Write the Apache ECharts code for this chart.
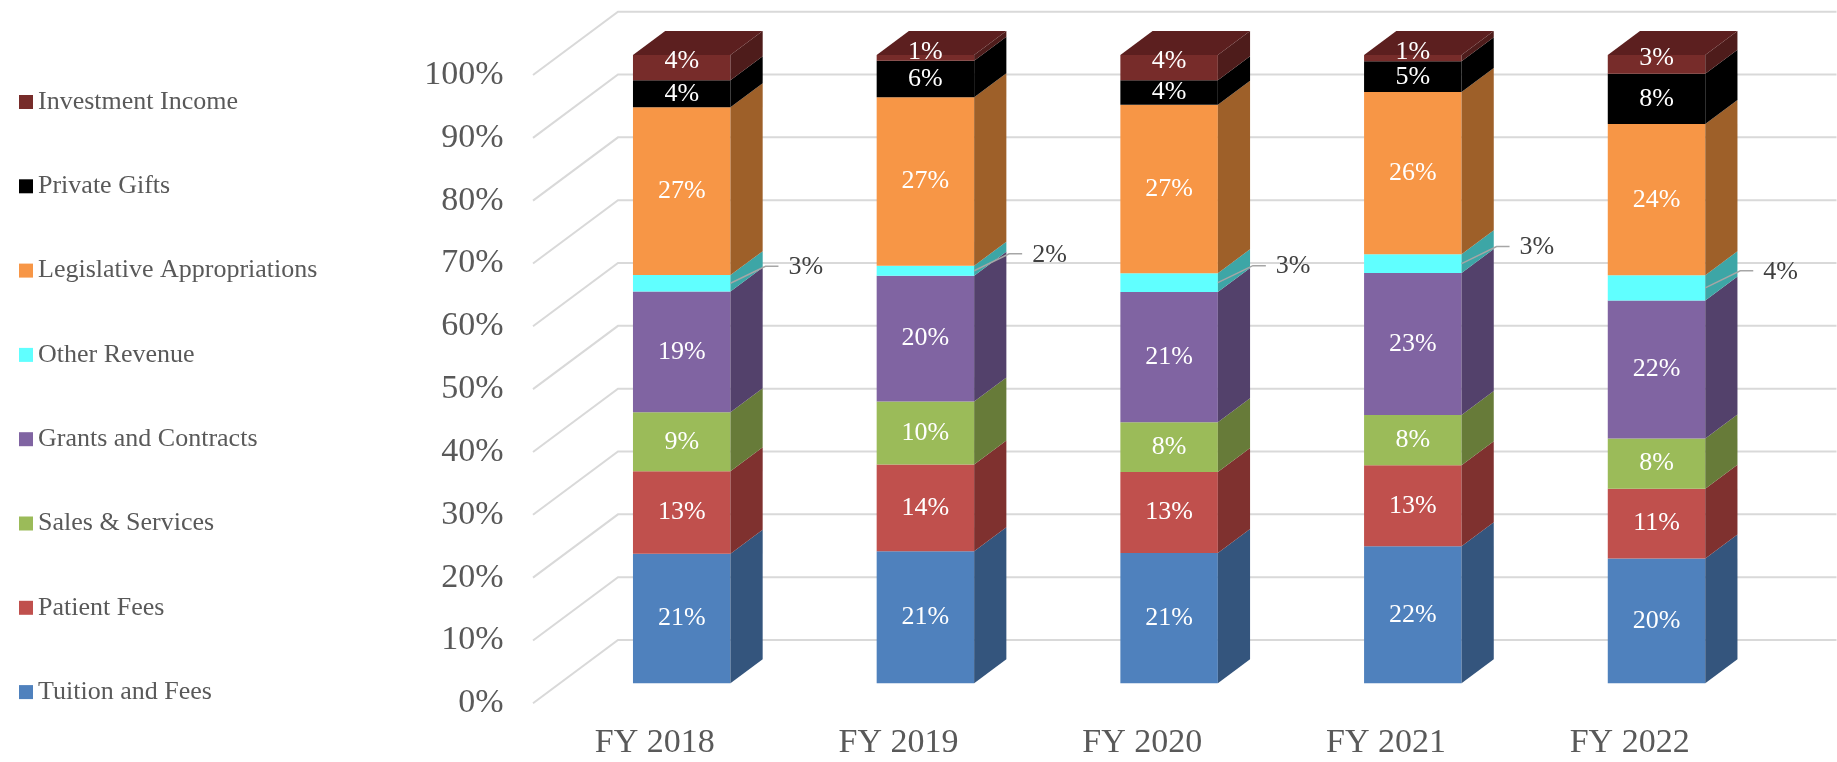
<!DOCTYPE html>
<html>
<head>
<meta charset="utf-8">
<script src="https://cdn.jsdelivr.net/npm/echarts@6/dist/echarts.min.js"></script>
<style>
    html, body { margin: 0; padding: 0; background: #fff; }
    #chart { width: 1837px; height: 762px; }
</style>
</head>
<body>
<div id="chart"></div>
<script>
// revenue mix by fiscal year, share of total in %
const years = ['FY 2018', 'FY 2019', 'FY 2020', 'FY 2021', 'FY 2022']
const tuitionFees = [20.6, 21.0, 20.7, 21.8, 19.9]
const patientFees = [13.1, 13.8, 12.9, 12.9, 11.1]
const salesServices = [9.4, 10.0, 7.9, 8.0, 8.0]
const grantsContracts = [19.2, 20.0, 20.7, 22.6, 22.0]
const otherRevenue = [2.6, 1.6, 3.0, 3.0, 4.0]
const legislative = [26.7, 26.8, 26.8, 25.8, 24.1]
const privateGifts = [4.3, 5.8, 3.9, 4.9, 8.0]
const investmentIncome = [4.0, 0.9, 4.0, 1.0, 3.0]
const yTicks = [0, 10, 20, 30, 40, 50, 60, 70, 80, 90, 100]

// stacked bottom -> top
const seriesNames = ['Tuition and Fees', 'Patient Fees', 'Sales & Services', 'Grants and Contracts',
    'Other Revenue', 'Legislative Appropriations', 'Private Gifts', 'Investment Income']
const seriesValues = [tuitionFees, patientFees, salesServices, grantsContracts,
    otherRevenue, legislative, privateGifts, investmentIncome]

const frontColors = ['#4F81BD', '#C0504D', '#9BBB59', '#8064A2', '#60FFFF', '#F79646', '#000000', '#772C2A']
const sideColors = ['#34557D', '#7F312F', '#677B39', '#53416B', '#3DA6A6', '#9E6029', '#000000', '#4E1C1B']
const topColor = '#5C1F1F'
const outsideLabel = 'Other Revenue'

const FONT = '"Liberation Serif", "Times New Roman", serif'
const DEPTH = [85, -63.3]     // full floor depth in px
const FRONT = 0.316, BACK = 0.695
const BAR_WIDTH = 0.4

// cumulative stacking (normalised to 100%)
const totals = years.map((y, i) => seriesValues.reduce((s, arr) => s + arr[i], 0))
const stacked = seriesValues.map(() => [])
years.forEach((y, i) => {
    let base = 0
    seriesValues.forEach((arr, k) => {
        const h = arr[i] / totals[i] * 100
        stacked[k].push([i, base, base + h, arr[i]])
        base += h
    })
})

function wallRender (params, api) {
    const v = api.value(1)
    const p = api.coord([0, v])
    const bw = api.size([1, 0])[0]
    const xl = p[0] - bw / 2
    const xr = xl + years.length * bw
    return {
        type: 'polyline',
        shape: { points: [[xl, p[1]], [xl + DEPTH[0], p[1] + DEPTH[1]], [xr + DEPTH[0], p[1] + DEPTH[1]]] },
        style: { stroke: '#D9D9D9', lineWidth: 2, fill: null }
    }
}

function barRender (k) {
    return function (params, api) {
        const i = api.value(0), start = api.value(1), end = api.value(2), pct = api.value(3)
        const bw = api.size([1, 0])[0]
        const w = bw * BAR_WIDTH
        const p0 = api.coord([i, start]), p1 = api.coord([i, end])
        const fx = DEPTH[0] * FRONT, fy = DEPTH[1] * FRONT
        const sx = DEPTH[0] * (BACK - FRONT), sy = DEPTH[1] * (BACK - FRONT)
        const xl = p0[0] - w / 2 + fx, xr = p0[0] + w / 2 + fx
        const yb = p0[1] + fy, yt = p1[1] + fy
        const children = [
            { type: 'rect', shape: { x: xl, y: yt, width: w, height: yb - yt }, style: { fill: frontColors[k] } },
            { type: 'polygon', shape: { points: [[xr, yt], [xr + sx, yt + sy], [xr + sx, yb + sy], [xr, yb]] },
              style: { fill: sideColors[k] } }
        ]
        if (k === seriesNames.length - 1) {
            children.push({ type: 'polygon',
                shape: { points: [[xl, yt], [xl + sx, yt + sy], [xr + sx, yt + sy], [xr, yt]] },
                style: { fill: topColor } })
        }
        const text = Math.round(pct) + '%'
        const mid = (yt + yb) / 2
        if (seriesNames[k] === outsideLabel) {
            const ex = xr + 35, ey = mid - 17
            children.push({ type: 'polyline', shape: { points: [[xr, mid], [ex, ey], [ex + 13, ey]] },
                style: { stroke: '#A6A6A6', lineWidth: 1.5, fill: null } })
            children.push({ type: 'text', x: ex + 23, y: ey + 1,
                style: { text: text, fill: '#404040', fontSize: 26, fontFamily: FONT,
                         align: 'left', verticalAlign: 'middle' } })
        } else {
            const ly = k === seriesNames.length - 1 ? mid - 6 : mid
            children.push({ type: 'text', x: (xl + xr) / 2, y: ly,
                style: { text: text, fill: '#FFFFFF', fontSize: 26, fontFamily: FONT,
                         align: 'center', verticalAlign: 'middle' } })
        }
        return { type: 'group', children: children }
    }
}

const series = [{
    name: 'wall',
    type: 'custom',
    silent: true,
    renderItem: wallRender,
    data: yTicks.map(v => [0, v]),
    z: 1
}]
seriesNames.forEach((name, k) => {
    series.push({
        name: name,
        type: 'custom',
        renderItem: barRender(k),
        itemStyle: { color: frontColors[k] },
        encode: { x: 0, y: [1, 2] },
        data: stacked[k],
        z: 2
    })
})

const chart = echarts.init(document.getElementById('chart'))
chart.setOption({
    animation: false,
    backgroundColor: '#fff',
    legend: {
        orient: 'vertical',
        left: 14,
        top: 84,
        icon: 'rect',
        itemWidth: 14,
        itemHeight: 14,
        itemGap: 58.3,
        selectedMode: false,
        data: seriesNames.slice().reverse(),
        textStyle: { fontSize: 26, fontFamily: FONT, color: '#595959', lineHeight: 26 }
    },
    grid: { left: 533, top: 75, width: 1218.5, height: 628.3 },
    xAxis: {
        type: 'category',
        data: years,
        axisLine: { show: false },
        axisTick: { show: false },
        axisLabel: { fontSize: 34, fontFamily: FONT, color: '#595959', margin: 23 }
    },
    yAxis: {
        type: 'value',
        min: 0,
        max: 100,
        interval: 10,
        splitLine: { show: false },
        axisLine: { show: false },
        axisTick: { show: false },
        axisLabel: { formatter: '{value}%', fontSize: 34, fontFamily: FONT, color: '#595959', margin: 29.5 }
    },
    series: series
})
</script>
</body>
</html>
